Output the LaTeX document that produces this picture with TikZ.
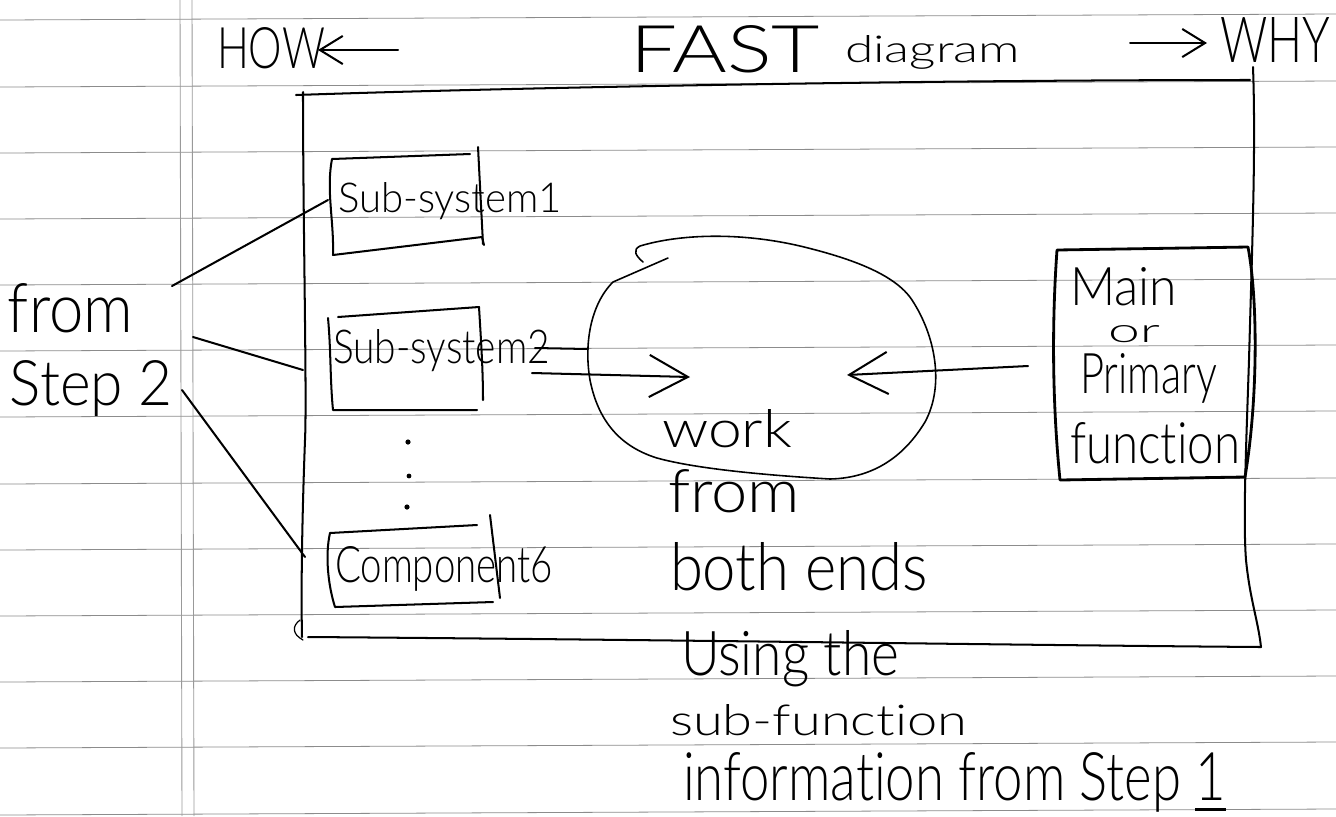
\documentclass[tikz,border=0pt]{standalone}
\usepackage{fontspec}
% a light sans for the handwritten words, with a regular fallback
\IfFontExistsTF{Lato Light}{\setmainfont{Lato Light}[Ligatures=NoCommon]}{\setmainfont{Open Sans}[Ligatures=NoCommon]}
\usepackage{graphicx}
\usetikzlibrary{arrows.meta}
% one drawing unit = one pixel of a 1336 x 816 sheet
\newlength\pxu
\setlength\pxu{0.02cm}
% handwritten word squeezed into a box of given width and height (in sheet units)
\newcommand\hw[3]{\resizebox{#1\pxu}{#2\pxu}{#3}}

\begin{document}
\begin{tikzpicture}[x=0.02cm, y=-0.02cm,
  paper/.style={draw=black!45, line width=0.45pt},
  margin/.style={draw=black!40, line width=0.5pt},
  ink/.style={draw=black, line width=1.15pt, line cap=round, line join=round},
  boldink/.style={ink, line width=1.6pt},
  hand/.style={inner sep=0pt, outer sep=0pt, anchor=base west},
  smallbarb/.style={-{Straight Barb[length=13pt, width=16pt]}},
  bigbarb/.style={-{Straight Barb[length=22pt, width=24pt]}},
  inkdot/.style={fill=black, draw=none}
]
\useasboundingbox (0,0) rectangle (1336,816);
\fill[white] (0,0) rectangle (1336,816);

% ruled notebook paper
\foreach \yy in {20,87,153,219,285,351,417,484,550,616,682,748,815}
  \draw[paper] (0,\yy) -- (1336,{\yy-6});
\draw[margin] (180,0) -- (182,816);
\draw[margin] (192,0) -- (194,816);

% title line
\node[hand] (how) at (217,68) {\hw{108}{41}{HOW}};
\coordinate (howtail) at (398,50);
\coordinate (howtip) at (318,50);
\draw[ink, smallbarb] (howtail) -- (howtip);
\node[hand] (fast) at (630,72) {\hw{190}{47}{FAST}};
\node[hand] (diagram) at (845,62) {\hw{175}{27}{diagram}};
\coordinate (whytail) at (1130,43);
\coordinate (whytip) at (1207,43);
\draw[ink, smallbarb] (whytail) -- (whytip);
\node[hand] (why) at (1220,62) {\hw{110}{45}{WHY}};

% outer frame of the FAST diagram
\draw[ink] (296,95) .. controls (500,88) and (900,80) .. (1250,80);
\draw[ink] (1253,67) .. controls (1256,150) and (1252,250) .. (1249,360)
  .. controls (1246,450) and (1243,520) .. (1246,560)
  .. controls (1250,600) and (1258,620) .. (1261,647);
\draw[ink] (1261,647) .. controls (1000,645) and (700,640) .. (308,637);
\draw[ink] (303,92) .. controls (303,220) and (307,400) .. (305,440)
  .. controls (302,520) and (301,590) .. (302,637);
\draw[ink, line width=0.7pt] (300,620) .. controls (292,626) and (292,634) .. (303,640);

% sub-system 1
\draw[ink] (470,154) -- (332,159) .. controls (326,190) and (334,220) .. (333,255)
  -- (482,237) -- (484,245);
\draw[ink] (478,147) -- (483,244);
\node[hand] (sub1) at (338,212) {\hw{224}{30}{Sub-system1}};

% sub-system 2
\draw[ink] (338,317) -- (479,307) .. controls (481,340) and (483,370) .. (483,400);
\draw[ink] (328,318) .. controls (331,350) and (330,380) .. (333,410) -- (477,410);
\node[hand] (sub2) at (333,363) {\hw{217}{34}{Sub-system2}};
\coordinate (sub2tail) at (535,348);
\coordinate (sub2tailend) at (588,349);
\draw[ink] (sub2tail) -- (sub2tailend);

% ellipsis between the boxes
\fill[inkdot] (408,442) circle (2.6);
\fill[inkdot] (409,476) circle (2.4);
\fill[inkdot] (407,507) circle (2.6);

% component 6
\draw[ink] (330,533) -- (477,525);
\draw[ink] (330,533) .. controls (325,555) and (328,585) .. (335,607) -- (493,602);
\draw[ink] (490,515) -- (500,598);
\node[hand] (comp) at (335,582) {\hw{218}{36}{Component6}};

% main / primary function box
\draw[boldink] (1057,250) -- (1248,247)
  .. controls (1258,300) and (1258,400) .. (1245,477) -- (1060,480)
  .. controls (1052,400) and (1052,320) .. (1057,250);
\node[hand] (main) at (1070,305) {\hw{107}{38}{Main}};
\node[hand] (or) at (1108,342) {\hw{52}{17}{or}};
\node[hand] (primary) at (1080,393) {\hw{137}{40}{Primary}};
\node[hand] (function) at (1070,463) {\hw{170}{41}{function}};

% the working area, entered from both ends
\draw[ink, line width=0.9pt] (643,262) .. controls (636,256) and (632,250) .. (640,246)
  .. controls (680,234) and (740,232) .. (800,246)
  .. controls (850,258) and (895,274) .. (912,300)
  .. controls (935,335) and (945,385) .. (925,422)
  .. controls (905,455) and (875,478) .. (830,479)
  .. controls (780,476) and (700,470) .. (657,458)
  .. controls (615,445) and (597,415) .. (590,380)
  .. controls (584,345) and (590,305) .. (613,282)
  -- (668,258);
\coordinate (leftin) at (532,373);
\coordinate (leftmeet) at (690,377);
\draw[ink, bigbarb] (leftin) -- (leftmeet);
\coordinate (rightin) at (1028,366);
\coordinate (rightmeet) at (847,375);
\draw[ink, bigbarb] (rightin) -- (rightmeet);
\node[hand] (work) at (662,447) {\hw{130}{38}{work}};
\node[hand] (from) at (668,512) {\hw{132}{43}{from}};
\node[hand] (both) at (670,590) {\hw{258}{48}{both ends}};

% source notes below the frame
\node[hand] (using) at (681,675) {\hw{218}{45}{Using the}};
\node[hand] (subfn) at (670,735) {\hw{297}{31}{sub-function}};
\node[hand] (info) at (683,800) {\hw{543}{48}{information from Step \underline{1}}};

% source notes left of the frame
\node[hand] (fromleft) at (8,332) {\hw{125}{49}{from}};
\node[hand] (step) at (10,405) {\hw{163}{45}{Step 2}};
\coordinate (fromA) at (172,286);
\coordinate (sub1in) at (328,200);
\draw[ink] (fromA) -- (sub1in);
\coordinate (fromB) at (193,337);
\coordinate (frameB) at (303,370);
\draw[ink] (fromB) -- (frameB);
\coordinate (fromC) at (182,390);
\coordinate (frameC) at (305,557);
\draw[ink] (fromC) -- (frameC);
\end{tikzpicture}
\end{document}
